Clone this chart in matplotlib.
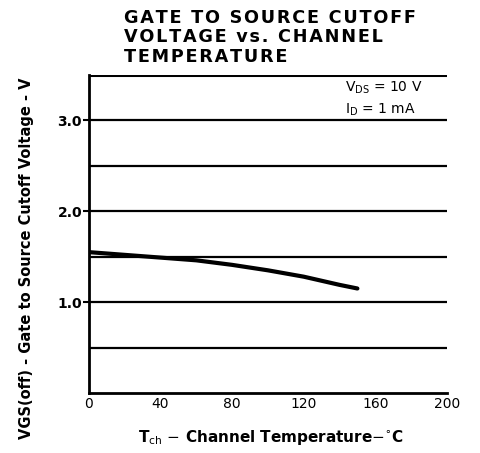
import numpy as np
import matplotlib
matplotlib.use('Agg')
import matplotlib.pyplot as plt

# Curve
temp = [0, 20, 40, 60, 80, 100, 120, 140, 150]
vgs_off = [1.55, 1.52, 1.49, 1.46, 1.41, 1.35, 1.28, 1.19, 1.15]

xticks = [0, 40, 80, 120, 160, 200]
xticklabels = ['0', '40', '80', '120', '160', '200']
yticks = [1.0, 2.0, 3.0]
yticklabels = ['1.0', '2.0', '3.0']
grid_levels = [0.5, 1.0, 1.5, 2.0, 2.5, 3.0, 3.5]

title_lines = ['GATE TO SOURCE CUTOFF', 'VOLTAGE vs. CHANNEL', 'TEMPERATURE']

fig = plt.figure(figsize=(4.81, 4.53), dpi=100)
ax = fig.add_axes([0.185, 0.1325, 0.744, 0.702])

for g in grid_levels:
    ax.axhline(g, color='black', lw=1.6 if g < 3.5 else 2.2, zorder=1)

ax.plot(temp, vgs_off, color='black', lw=3, solid_capstyle='round', zorder=3)

ax.set_xlim(0, 200)
ax.set_ylim(0, 3.5)
ax.spines['top'].set_visible(False)
ax.spines['right'].set_visible(False)
ax.spines['left'].set_linewidth(2)
ax.spines['bottom'].set_linewidth(2)

ax.set_xticks(xticks)
ax.set_xticklabels(xticklabels, fontsize=10)
ax.set_yticks(yticks)
ax.set_yticklabels(yticklabels, fontsize=10, fontweight='bold')
ax.tick_params(axis='x', length=0, pad=3)
ax.tick_params(axis='y', length=4, width=1.5, pad=1)

ax.text(0.715, 0.985, r'V$_{\rm DS}$ = 10 V', transform=ax.transAxes,
        fontsize=10, va='top', ha='left')
ax.text(0.715, 0.915, r'I$_{\rm D}$ = 1 mA', transform=ax.transAxes,
        fontsize=10, va='top', ha='left')

# spaced-out bold title, like the wide datasheet lettering
spaced = '\n'.join('\u200a'.join(line) for line in title_lines)
fig.text(0.258, 0.98, spaced, fontsize=12.7, fontweight='bold',
         ha='left', va='top', linespacing=1.1)

fig.text(0.564, 0.035, r'T$_{\rm ch}$ $-$ Channel Temperature$-$$^{\circ}$C',
         fontsize=11, fontweight='bold', ha='center', va='center')
fig.text(0.056, 0.43, 'VGS(off) - Gate to Source Cutoff Voltage - V',
         fontsize=10.5, fontweight='bold', rotation=90, ha='center', va='center')

plt.savefig('out.png', dpi=100)
